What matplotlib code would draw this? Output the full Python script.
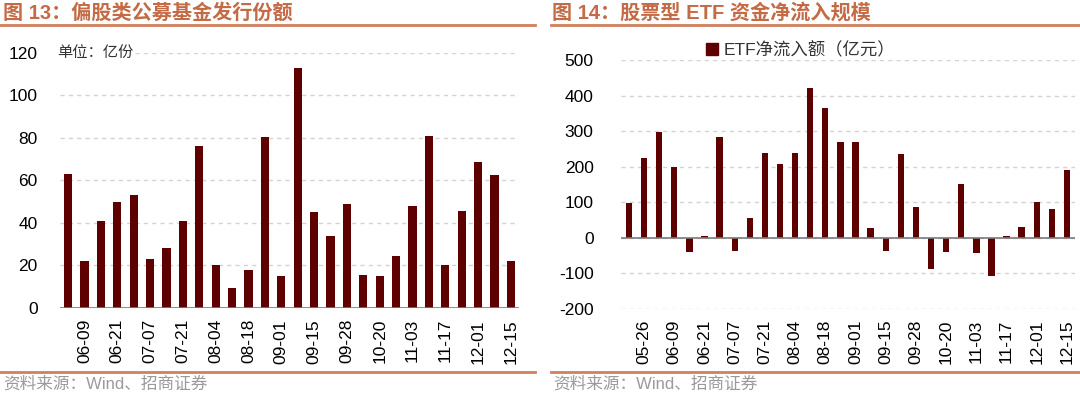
import numpy as np
import matplotlib
matplotlib.use("Agg")
import matplotlib.pyplot as plt
from matplotlib.lines import Line2D
from matplotlib.patches import Patch

plt.rcParams['font.family'] = ['Liberation Sans', 'Noto Sans CJK SC']
plt.rcParams['axes.unicode_minus'] = False

# 偏股类公募基金发行份额 (亿份), weekly
fund_issue = [63, 22, 41, 50, 53, 23, 28, 41, 76, 20, 9.5, 18, 80.5, 15,
              113, 45, 34, 49, 15.5, 15, 24.5, 48, 81, 20, 45.5, 68.5, 62.5, 22]
fund_labels = ["06-09", "06-21", "07-07", "07-21", "08-04", "08-18", "09-01",
               "09-15", "09-28", "10-20", "11-03", "11-17", "12-01", "12-15"]

# 股票型 ETF 净流入额 (亿元), weekly
etf_flow = [98, 224, 298, 200, -41, 4, 284, -38, 54, 238, 207, 239,
            420, 365, 270, 270, 26, -38, 236, 87, -89, -41, 150, -44, -107, 4, 30, 100, 82, 189]
etf_labels = ["05-26", "06-09", "06-21", "07-07", "07-21", "08-04", "08-18", "09-01",
              "09-15", "09-28", "10-20", "11-03", "11-17", "12-01", "12-15"]

bar_color = "#5E0000"
title_color = "#C46A45"
line_color = "#D2805E"
W, H = 1080, 394

fig = plt.figure(figsize=(W / 100, H / 100), dpi=100)


def px_axes(x0, x1, ytop, ybot):
    return fig.add_axes([x0 / W, (H - ybot) / H, (x1 - x0) / W, (ybot - ytop) / H])


def style(ax, yticks, labels, n, pad):
    ax.set_yticks(yticks)
    ax.set_ylim(yticks[0], yticks[-1])
    ax.set_xlim(-0.5, n - 0.5)
    for y in yticks:
        ax.axhline(y, color="#D3D3D3", lw=1, ls=(0, (3, 3)), zorder=0)
    ax.axhline(0, color="#7A7A7A", lw=1.2, zorder=3)
    for s in ax.spines.values():
        s.set_visible(False)
    ax.set_xticks(np.arange(1, n, 2))
    ax.set_xticklabels(labels, rotation=90, fontsize=12.5)
    ax.tick_params(axis="x", length=0, pad=8)
    ax.tick_params(axis="y", length=0, pad=pad, labelsize=12.5)


# left chart
ax1 = px_axes(60, 519, 52.7, 308)
ax1.bar(np.arange(len(fund_issue)), fund_issue, width=0.5, color=bar_color, zorder=2)
style(ax1, [0, 20, 40, 60, 80, 100, 120], fund_labels, len(fund_issue), 16)
ax1.text(-0.007, 1.0, "单位：亿份", transform=ax1.transAxes, fontsize=11,
         color="#333333", va="center", ha="left", clip_on=False,
         bbox=dict(facecolor="white", edgecolor="none", pad=1))

# right chart
ax2 = px_axes(621.4, 1074.5, 60, 308.7)
ax2.bar(np.arange(len(etf_flow)), etf_flow, width=0.42, color=bar_color, zorder=2)
style(ax2, [-200, -100, 0, 100, 200, 300, 400, 500], etf_labels, len(etf_flow), 20)
ax2.legend(handles=[Patch(color=bar_color, label="ETF净流入额（亿元）")],
           loc="center", bbox_to_anchor=(0.396, 1.04), frameon=False, fontsize=12.5,
           handlelength=0.7, handleheight=0.7, handletextpad=0.3, labelcolor="#333333")

# titles, rules and source notes
fig.text(3 / W, 1 - 13 / H, "图 13：偏股类公募基金发行份额", fontsize=14.5, fontweight="bold",
         color=title_color, va="center", ha="left")
fig.text(552 / W, 1 - 13 / H, "图 14：股票型 ETF 资金净流入规模", fontsize=14.5, fontweight="bold",
         color=title_color, va="center", ha="left")
for x0, x1 in [(0, 535), (551, 1080)]:
    fig.add_artist(Line2D([x0 / W, x1 / W], [1 - 24.5 / H] * 2, color=line_color, lw=2))
    fig.add_artist(Line2D([x0 / W, x1 / W], [1 - 372 / H] * 2, color=line_color, lw=2))
fig.text(3 / W, 1 - 384 / H, "资料来源：Wind、招商证券", fontsize=12, color="#9A9A9A",
         va="center", ha="left")
fig.text(553 / W, 1 - 384 / H, "资料来源：Wind、招商证券", fontsize=12, color="#9A9A9A",
         va="center", ha="left")

fig.savefig("out.png", dpi=100)
